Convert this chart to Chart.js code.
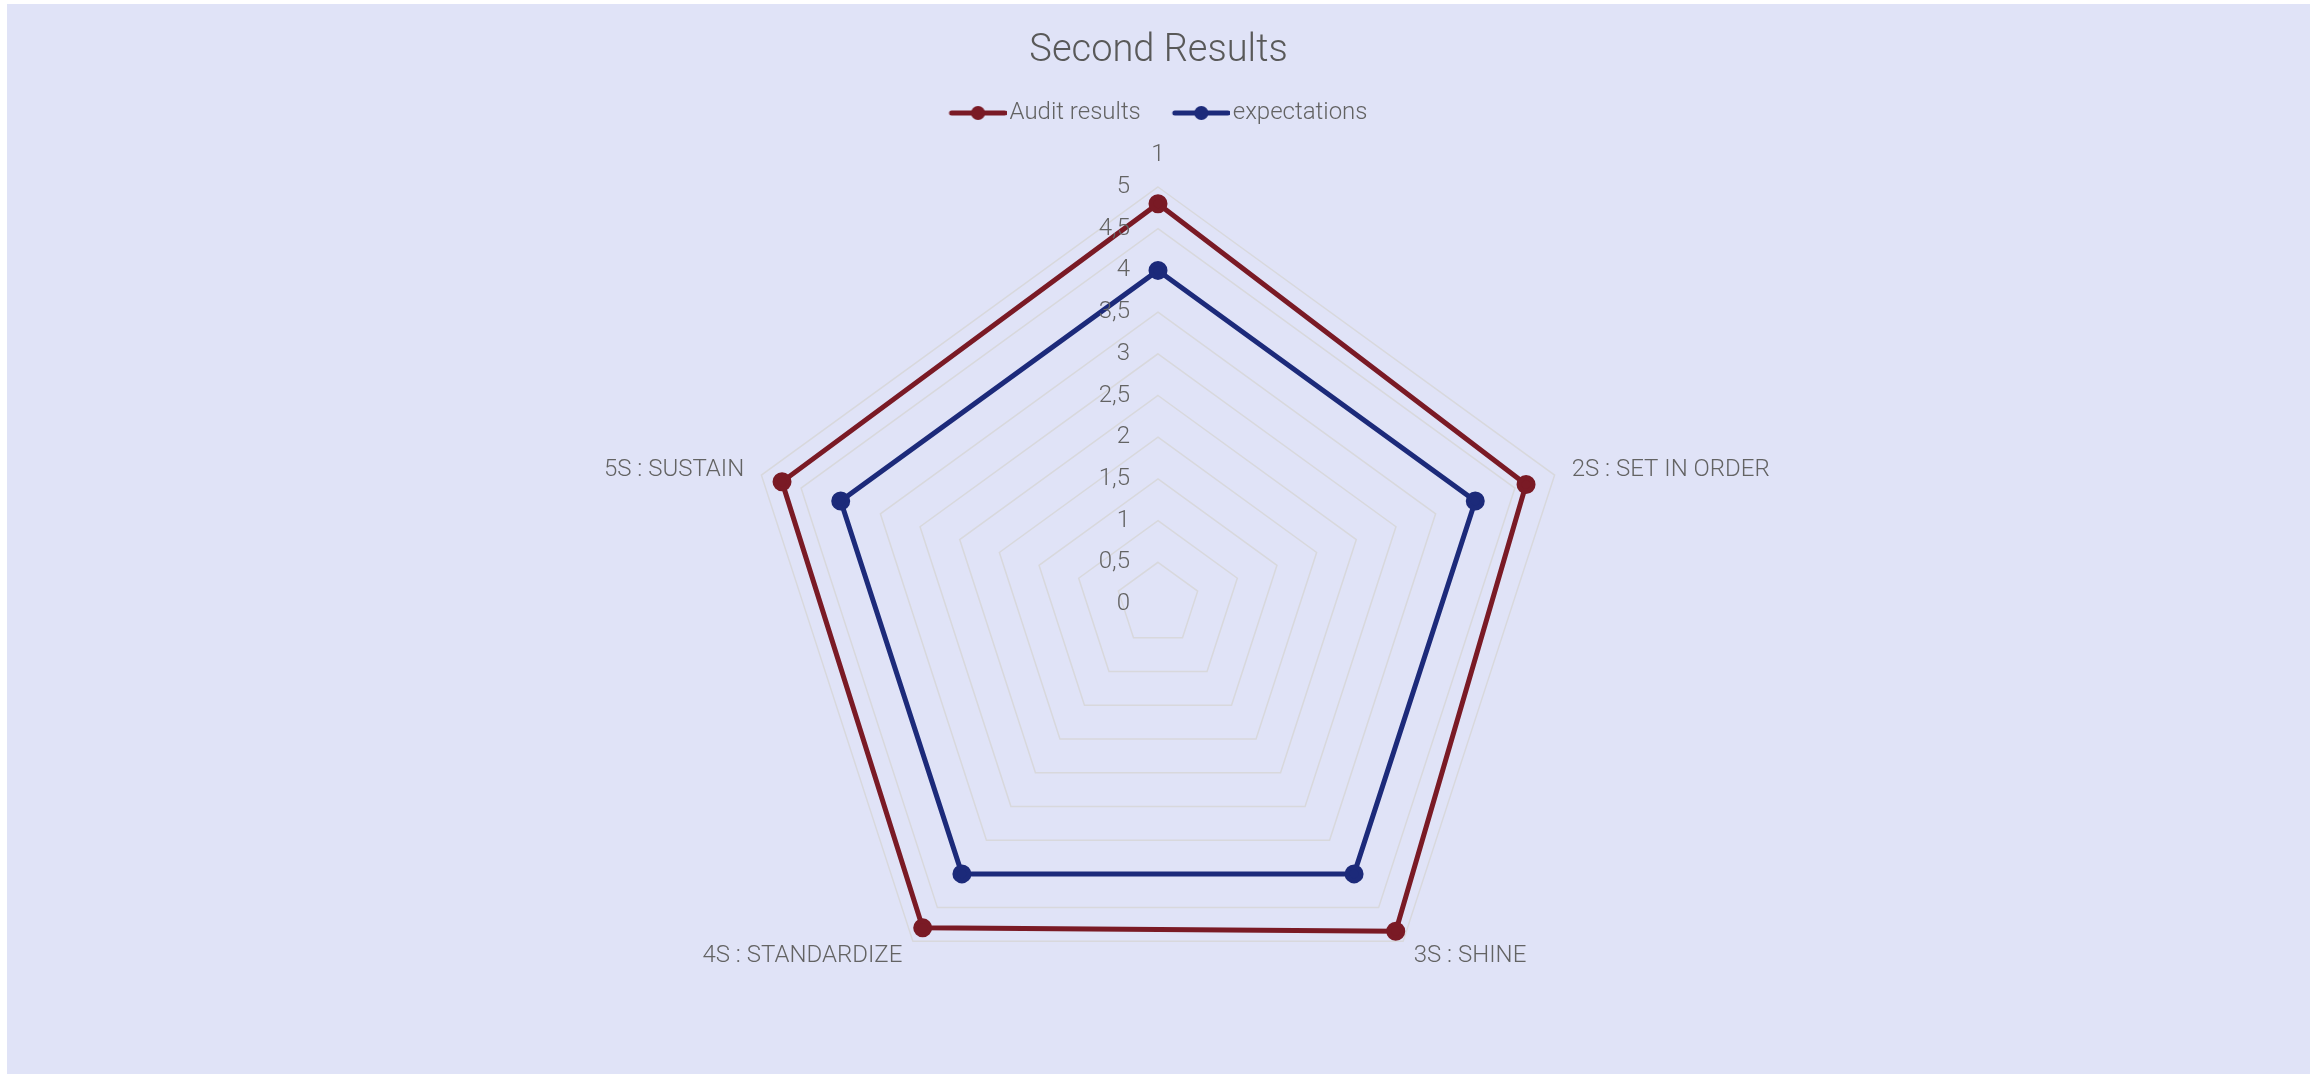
<!DOCTYPE html>
<html>
<head>
<meta charset="utf-8">
<script src="https://cdn.jsdelivr.net/npm/chart.js@4.4.1/dist/chart.umd.min.js"></script>
<style>
  html, body { margin: 0; padding: 0; background: #fff; }
  #wrap { position: absolute; left: 7px; top: 4px; width: 2303px; height: 1070px; background: #e0e3f7; }
</style>
</head>
<body>
<div id="wrap"><canvas id="radarChart" width="2303" height="1070"></canvas></div>
<script>
const categories = ['1', '2S : SET IN ORDER', '3S : SHINE', '4S : STANDARDIZE', '5S : SUSTAIN'];
const auditResults = [4.8, 4.64, 4.85, 4.8, 4.74];
const expectations = [4, 4, 4, 4, 4];
const tickLabels = ['0', '0,5', '1', '1,5', '2', '2,5', '3', '3,5', '4', '4,5', '5'];

const RED = '#7a1a25';
const BLUE = '#1c2a7a';
const TEXT = '#636363';

// legend marker: line with a dot, like the reference
function legendMarker(color) {
  const c = document.createElement('canvas');
  c.width = 66;
  c.height = 18;
  const g = c.getContext('2d');
  g.strokeStyle = color;
  g.lineWidth = 5;
  g.lineCap = 'round';
  g.beginPath();
  g.moveTo(11, 9);
  g.lineTo(64, 9);
  g.stroke();
  g.fillStyle = color;
  g.beginPath();
  g.arc(37.5, 9, 7, 0, Math.PI * 2);
  g.fill();
  return c;
}
const markers = [legendMarker(RED), legendMarker(BLUE)];

// tick labels sit left of the vertical axis, not centred on it
const sideTicks = {
  id: 'sideTicks',
  afterDatasetsDraw(chart) {
    const s = chart.scales.r;
    const ctx = chart.ctx;
    ctx.save();
    ctx.font = '300 24px Roboto';
    ctx.fillStyle = TEXT;
    ctx.textAlign = 'right';
    ctx.textBaseline = 'middle';
    s.ticks.forEach((t, i) => {
      const d = s.getDistanceFromCenterForValue(t.value);
      ctx.fillText(tickLabels[i], s.xCenter - 28, s.yCenter - d);
    });
    ctx.restore();
  }
};

const ctx = document.getElementById('radarChart');

new Chart(ctx, {
  type: 'radar',
  data: {
    labels: categories,
    datasets: [{
      label: 'Audit results',
      data: auditResults,
      borderColor: RED,
      backgroundColor: RED,
      pointBackgroundColor: RED,
      pointBorderColor: RED,
      borderWidth: 5,
      pointRadius: 7,
      fill: false
    }, {
      label: 'expectations',
      data: expectations,
      borderColor: BLUE,
      backgroundColor: BLUE,
      pointBackgroundColor: BLUE,
      pointBorderColor: BLUE,
      borderWidth: 5,
      pointRadius: 7,
      fill: false
    }]
  },
  options: {
    responsive: false,
    animation: false,
    devicePixelRatio: 1,
    layout: { padding: { top: 0, bottom: 35, left: 0, right: 0 } },
    scales: {
      r: {
        min: 0,
        max: 5,
        beginAtZero: true,
        ticks: { stepSize: 0.5, display: false },
        grid: { color: '#d8d8dc', lineWidth: 1.5 },
        angleLines: { display: false },
        pointLabels: {
          color: TEXT,
          font: (c) => ({ family: 'Roboto', size: 24, weight: '300', lineHeight: c.index === 0 ? '6px' : '0px' }),
          padding: (c) => c.index === 0 ? 29 : 18
        }
      }
    },
    plugins: {
      title: {
        display: true,
        text: 'Second Results',
        color: '#595959',
        font: { family: 'Roboto', size: 38, weight: '300', lineHeight: 1 },
        padding: { top: 28, bottom: -1 }
      },
      legend: {
        position: 'top',
        labels: {
          usePointStyle: true,
          pointStyleWidth: 48,
          padding: 32,
          color: TEXT,
          font: { family: 'Roboto', size: 24, weight: '300' },
          generateLabels(chart) {
            const items = Chart.defaults.plugins.legend.labels.generateLabels(chart);
            items.forEach((it, i) => { it.pointStyle = markers[i]; });
            return items;
          }
        }
      },
      tooltip: { enabled: false }
    }
  },
  plugins: [sideTicks]
});
</script>
</body>
</html>
